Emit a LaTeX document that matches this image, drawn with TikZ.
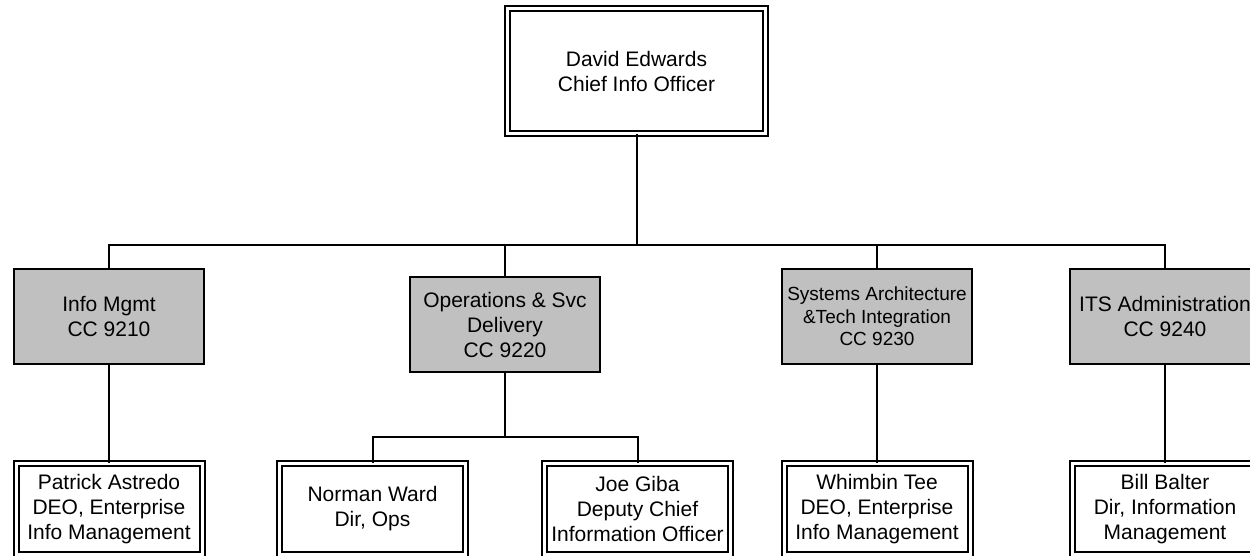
\documentclass[tikz,border=0pt]{standalone}
\usepackage{fontspec}
\setmainfont{Liberation Sans}
\begin{document}
\begin{tikzpicture}[x=0.75pt,y=-0.75pt,
  every node/.style={font=\fontsize{15.75}{18.75}\selectfont, align=center, inner sep=0pt},
  dbox/.style={draw=black, line width=1.5pt, double=white, double distance=2.25pt, fill=white},
  topbox/.style={dbox, minimum width=193.5pt, minimum height=93.75pt},
  subbox/.style={dbox, minimum width=139.5pt, minimum height=68.25pt},
  graybox/.style={draw=black, line width=1.5pt, fill=graybg, minimum width=142.5pt, minimum height=71.25pt},
  conn/.style={draw=black, line width=1.5pt}
]
\definecolor{graybg}{HTML}{C0C0C0}
\useasboundingbox (0,0) rectangle (1250,556);
\clip (0,0) rectangle (1250,556);

\node[topbox] (top) at (636.5,71) {David Edwards\\Chief Info Officer};

\node[graybox] (info) at (109,316.5) {Info Mgmt\\CC 9210};
\node[graybox] (ops) at (505,324.5) {Operations \& Svc\\Delivery\\CC 9220};
\node[graybox, font=\fontsize{14.25}{16.9}\selectfont] (sys) at (877,316.5) {Systems Architecture\\\&Tech Integration\\CC 9230};
\node[graybox] (its) at (1165,316.5) {ITS Administration\\CC 9240};

\node[subbox] (patrick) at (109,509) {Patrick Astredo\\DEO, Enterprise\\Info Management};
\node[subbox] (norman) at (372.5,509) {Norman Ward\\Dir, Ops};
\node[subbox] (joe) at (637.5,509) {Joe Giba\\Deputy Chief\\Information Officer};
\node[subbox] (whimbin) at (877,509) {Whimbin Tee\\DEO, Enterprise\\Info Management};
\node[subbox] (bill) at (1165,509) {Bill Balter\\Dir, Information\\Management};

\coordinate (bus) at (636.5,245);
\coordinate (sub) at (505,437);

\draw[conn] (top.south) -- (bus);
\draw[conn] (info.north) |- (bus) -| (its.north);
\draw[conn] (ops.north) -- (ops.north |- bus);
\draw[conn] (sys.north) -- (sys.north |- bus);

\draw[conn] (info.south) -- (patrick.north);
\draw[conn] (sys.south) -- (whimbin.north);
\draw[conn] (its.south) -- (bill.north);
\draw[conn] (ops.south) -- (sub);
\draw[conn] (norman.north) |- (sub) -| (joe.north);
\end{tikzpicture}
\end{document}
